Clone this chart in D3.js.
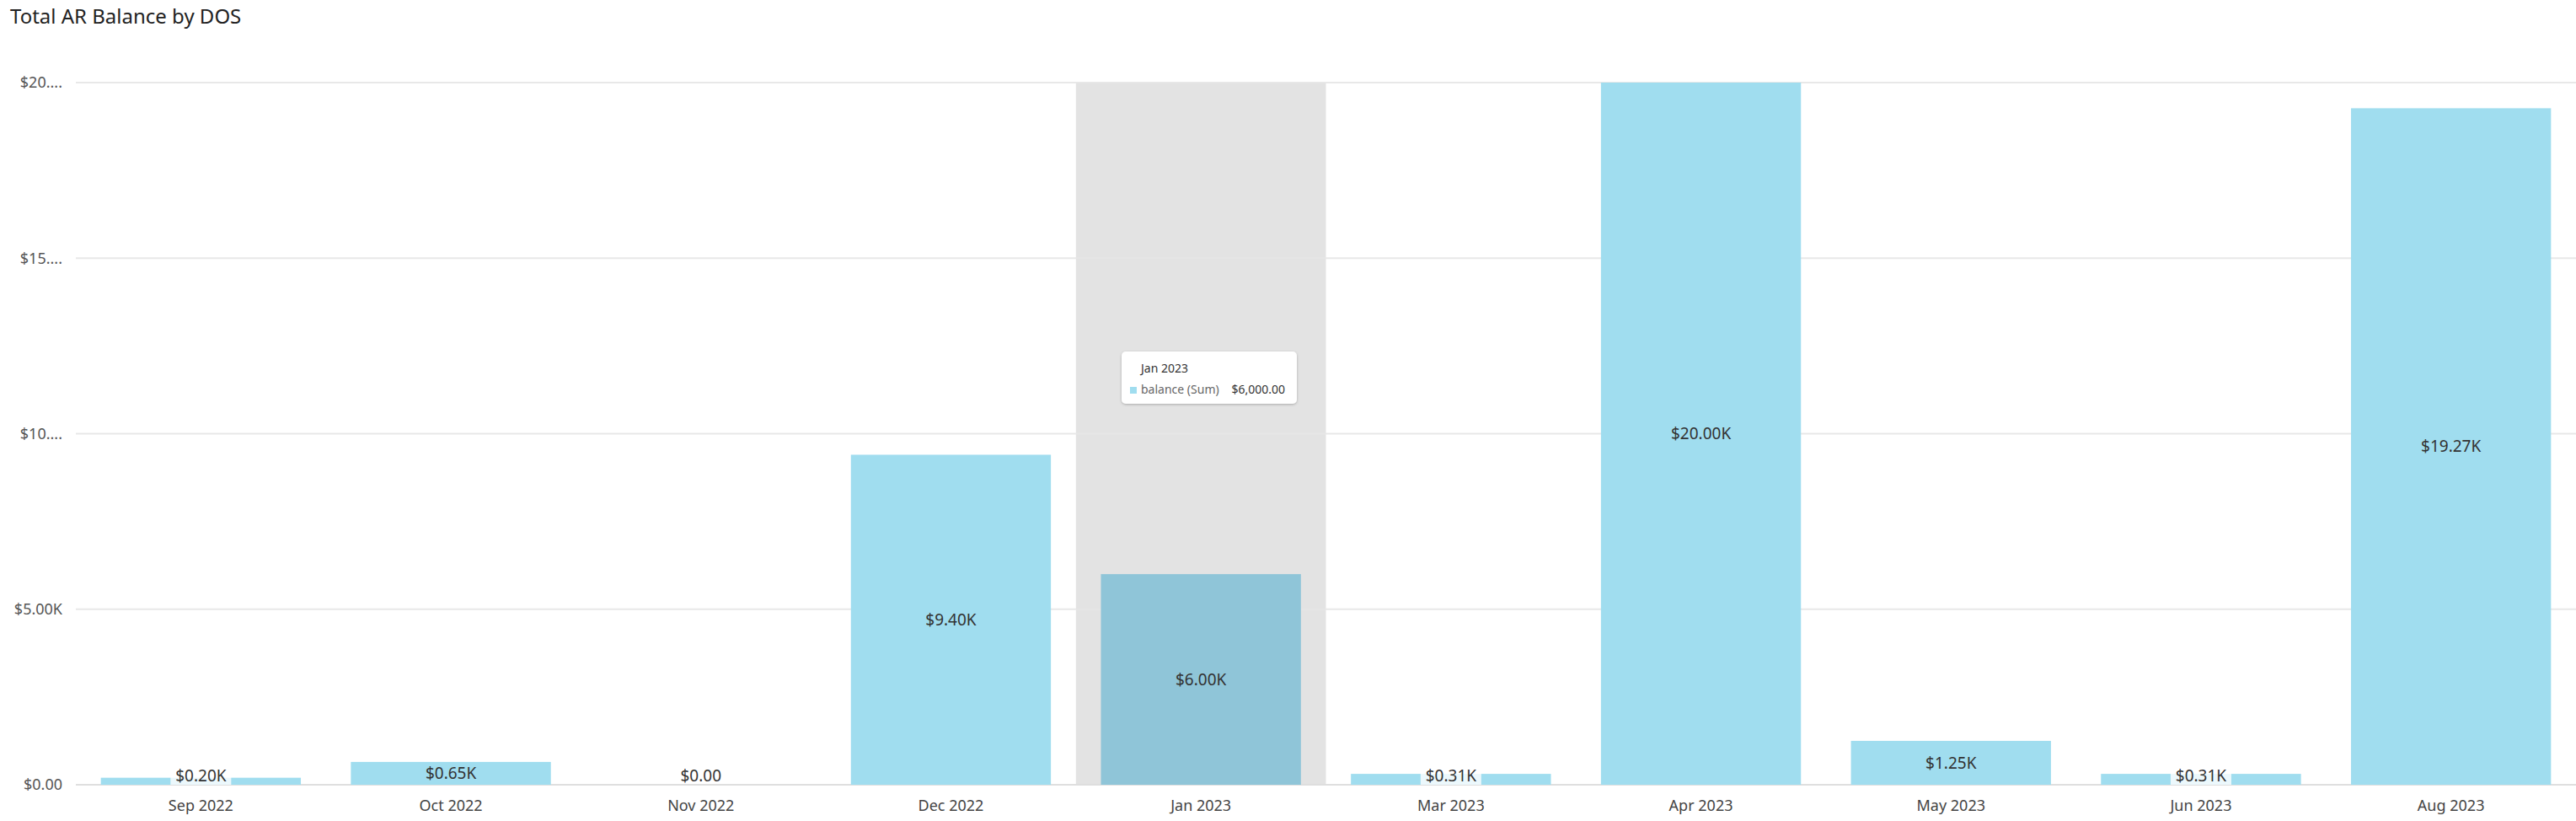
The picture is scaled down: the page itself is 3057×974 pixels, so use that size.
<!DOCTYPE html>
<html>
<head>
<meta charset="utf-8">
<script src="https://cdn.jsdelivr.net/npm/d3@7"></script>
<style>
  body { margin: 0; background: #fff; }
  text { font-family: "Noto Sans", "Open Sans", sans-serif; }
</style>
</head>
<body>
<div class="chart-container"></div>
<script>
// Data
var months = ['Sep 2022', 'Oct 2022', 'Nov 2022', 'Dec 2022', 'Jan 2023',
  'Mar 2023', 'Apr 2023', 'May 2023', 'Jun 2023', 'Aug 2023'];
var balances = [200, 650, 0, 9400, 6000, 310, 20000, 1250, 310, 19270];
var yTickValues = [0, 5000, 10000, 15000, 20000];
var yTickLabels = ['$0.00', '$5.00K', '$10....', '$15....', '$20....'];
var hovered = 'Jan 2023';
var tooltipLabel = 'balance (Sum)';
var tooltipValue = '$6,000.00';

var width = 3057;
var height = 974;
var plotLeft = 90;
var plotTop = 98;
var plotBottom = 931;

var svg = d3.select('.chart-container')
  .append('svg')
  .attr('width', width)
  .attr('height', height);

// Title
svg.append('text')
  .attr('x', 12)
  .attr('y', 28)
  .attr('font-size', 24)
  .attr('fill', '#222')
  .text('Total AR Balance by DOS');

var x = d3.scaleBand()
  .domain(months)
  .range([plotLeft, width])
  .paddingInner(0.2)
  .paddingOuter(0.1);

var y = d3.scaleLinear()
  .domain([0, 20000])
  .range([plotBottom, plotTop]);

// Hover highlight band (full step)
var step = x.step();
svg.append('rect')
  .attr('x', x(hovered) - x.paddingInner() * step / 2)
  .attr('y', plotTop)
  .attr('width', step)
  .attr('height', plotBottom - plotTop)
  .attr('fill', '#e3e3e3');

// Gridlines
svg.append('g')
  .selectAll('line')
  .data(yTickValues)
  .enter()
  .append('line')
  .attr('x1', plotLeft)
  .attr('x2', width)
  .attr('y1', d => y(d))
  .attr('y2', d => y(d))
  .attr('stroke', d => d === 0 ? '#dcdcdc' : '#e6e6e6')
  .attr('stroke-opacity', 0.9)
  .attr('stroke-width', 2);

// Y axis labels
var yAxis = d3.axisLeft(y)
  .tickValues(yTickValues)
  .tickFormat((d, i) => yTickLabels[i])
  .tickSize(0)
  .tickPadding(16);

svg.append('g')
  .attr('transform', 'translate(' + plotLeft + ',0)')
  .call(yAxis)
  .call(g => g.select('.domain').remove())
  .selectAll('text')
  .attr('font-size', 18)
  .attr('fill', '#555')
  .style('font-family', '"Noto Sans", sans-serif');

// X axis labels
var xAxis = d3.axisBottom(x).tickSize(0).tickPadding(18);
svg.append('g')
  .attr('transform', 'translate(0,' + plotBottom + ')')
  .call(xAxis)
  .call(g => g.select('.domain').remove())
  .selectAll('text')
  .attr('font-size', 18)
  .attr('fill', '#444')
  .style('font-family', '"Noto Sans", sans-serif');

// Bars
svg.append('g')
  .selectAll('rect')
  .data(balances)
  .enter()
  .append('rect')
  .attr('x', (d, i) => x(months[i]))
  .attr('y', d => y(d))
  .attr('width', x.bandwidth())
  .attr('height', d => plotBottom - y(d))
  .attr('fill', (d, i) => months[i] === hovered ? '#8fc5d8' : '#a0ddef');

// Bar labels
function fmt(d) {
  return d === 0 ? '$0.00' : '$' + (d / 1000).toFixed(2) + 'K';
}

var labels = svg.append('g')
  .selectAll('g')
  .data(balances)
  .enter()
  .append('g')
  .attr('transform', function (d, i) {
    var cy = Math.min((y(d) + plotBottom) / 2, plotBottom - 11);
    return 'translate(' + (x(months[i]) + x.bandwidth() / 2) + ',' + cy + ')';
  });

labels.filter(d => d > 0 && plotBottom - y(d) < 20)
  .append('rect')
  .attr('x', -36)
  .attr('y', -11)
  .attr('width', 72)
  .attr('height', 22)
  .attr('fill', 'rgba(255,255,255,0.8)');

labels.append('text')
  .attr('text-anchor', 'middle')
  .attr('dy', '0.35em')
  .attr('font-size', 19)
  .attr('fill', '#333')
  .text(d => fmt(d));

// Tooltip
var tipX = 1331;
var tipY = 417;
var defs = svg.append('defs');
var filter = defs.append('filter').attr('id', 'shadow')
  .attr('x', '-10%').attr('y', '-20%').attr('width', '120%').attr('height', '150%');
filter.append('feDropShadow')
  .attr('dx', 0).attr('dy', 1).attr('stdDeviation', 1.5)
  .attr('flood-color', '#000').attr('flood-opacity', 0.25);

var tip = svg.append('g').attr('transform', 'translate(' + tipX + ',' + tipY + ')');
tip.append('rect')
  .attr('width', 208)
  .attr('height', 62)
  .attr('rx', 5)
  .attr('fill', '#fff')
  .attr('filter', 'url(#shadow)');
tip.append('text')
  .attr('x', 23)
  .attr('y', 25)
  .attr('font-size', 14)
  .attr('fill', '#333')
  .text(hovered);
tip.append('rect')
  .attr('x', 10)
  .attr('y', 42)
  .attr('width', 8)
  .attr('height', 8)
  .attr('fill', '#a0ddef');
tip.append('text')
  .attr('x', 23)
  .attr('y', 50)
  .attr('font-size', 14)
  .attr('fill', '#666')
  .text(tooltipLabel);
tip.append('text')
  .attr('x', 194)
  .attr('y', 50)
  .attr('text-anchor', 'end')
  .attr('font-size', 14)
  .attr('fill', '#333')
  .text(tooltipValue);
</script>
</body>
</html>
